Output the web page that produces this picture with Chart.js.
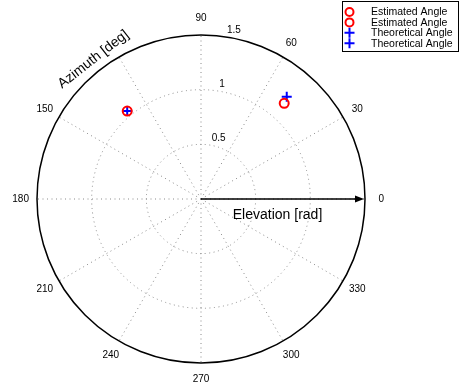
<!DOCTYPE html>
<html>
<head>
<meta charset="utf-8">
<script src="https://cdn.jsdelivr.net/npm/chart.js@4/dist/chart.umd.min.js"></script>
<style>
  html, body { margin: 0; padding: 0; background: #fff; }
  #wrap { width: 461px; height: 389px; }
</style>
</head>
<body>
<div id="wrap"><canvas id="polar" width="461" height="389"></canvas></div>
<script>
// Azimuth spokes (degrees) and their labels; the 120° slot carries the axis title instead
const azimuthTicks = [0, 30, 60, 90, 120, 150, 180, 210, 240, 270, 300, 330];
const azimuthTickLabels = ['0', '30', '60', '90', '', '150', '180', '210', '240', '270', '300', '330'];
// Elevation rings (radians) and their labels
const elevationTicks = [0.5, 1, 1.5];
const elevationTickLabels = ['0.5', '1', '1.5'];
const elevationMax = 1.5;

// Measured directions: azimuth in degrees, elevation in radians
const estimatedAzimuth = [130, 49];
const estimatedElevation = [1.05, 1.16];
// Reference directions
const theoreticalAzimuth = [130, 50];
const theoreticalElevation = [1.05, 1.22];

const azimuthTitle = 'Azimuth [deg]';
const elevationTitle = 'Elevation [rad]';
const FONT = '"Liberation Sans", Arial, Helvetica, sans-serif';

function toXY(azDeg, r) {
  const a = azDeg * Math.PI / 180;
  return { x: r * Math.cos(a), y: r * Math.sin(a) };
}

function pointDataset(label, az, el, style) {
  return Object.assign({
    label: label,
    data: [toXY(az, el)],
    showLine: false
  }, style);
}

const estStyle = { pointStyle: 'circle', pointRadius: 4.5, pointBorderWidth: 2,
  borderColor: '#ff0000', pointBorderColor: '#ff0000', backgroundColor: 'rgba(0,0,0,0)', pointBackgroundColor: 'rgba(0,0,0,0)' };
const theoStyle = { pointStyle: 'cross', pointRadius: 5, pointBorderWidth: 2,
  borderColor: '#0000ff', pointBorderColor: '#0000ff', backgroundColor: '#0000ff' };

const datasets = [
  pointDataset('Estimated Angle', estimatedAzimuth[0], estimatedElevation[0], estStyle),
  pointDataset('Estimated Angle', estimatedAzimuth[1], estimatedElevation[1], estStyle),
  pointDataset('Theoretical Angle', theoreticalAzimuth[0], theoreticalElevation[0], theoStyle),
  pointDataset('Theoretical Angle', theoreticalAzimuth[1], theoreticalElevation[1], theoStyle)
];

// Polar frame: dotted rings and spokes, solid rim, angle and ring labels, titles
const polarFrame = {
  id: 'polarFrame',
  beforeDatasetsDraw(chart) {
    const ctx = chart.ctx;
    const xs = chart.scales.x, ys = chart.scales.y;
    const px = v => xs.getPixelForValue(v);
    const py = v => ys.getPixelForValue(v);
    const cx = px(0), cy = py(0);
    const rpx = r => px(r) - px(0);

    ctx.save();
    // dotted spokes
    ctx.strokeStyle = '#8a8a8a';
    ctx.lineWidth = 1;
    ctx.setLineDash([1, 3.5]);
    azimuthTicks.forEach(a => {
      const p = toXY(a, elevationMax);
      ctx.beginPath();
      ctx.moveTo(cx, cy);
      ctx.lineTo(px(p.x), py(p.y));
      ctx.stroke();
    });
    // dotted inner rings
    elevationTicks.forEach(r => {
      if (r >= elevationMax) return;
      ctx.beginPath();
      ctx.arc(cx, cy, rpx(r), 0, Math.PI * 2);
      ctx.stroke();
    });
    ctx.setLineDash([]);
    // solid rim
    ctx.strokeStyle = '#000';
    ctx.lineWidth = 1.5;
    ctx.beginPath();
    ctx.arc(cx, cy, rpx(elevationMax), 0, Math.PI * 2);
    ctx.stroke();

    // angle labels
    ctx.fillStyle = '#000';
    ctx.font = '10px ' + FONT;
    ctx.textAlign = 'center';
    ctx.textBaseline = 'middle';
    azimuthTicks.forEach((a, i) => {
      const p = toXY(a, elevationMax * 1.1);
      ctx.fillText(azimuthTickLabels[i], px(p.x), py(p.y));
    });
    // ring labels along 82°
    ctx.textAlign = 'left';
    ctx.textBaseline = 'bottom';
    elevationTicks.forEach((r, i) => {
      const p = toXY(82, r + elevationMax / 3 / 20);
      ctx.fillText(' ' + elevationTickLabels[i], px(p.x), py(p.y) + 1);
    });

    // elevation arrow along 0°
    const x0 = cx, x1 = px(elevationMax) - 1;
    ctx.strokeStyle = '#000';
    ctx.fillStyle = '#000';
    ctx.lineWidth = 1.5;
    ctx.beginPath();
    ctx.moveTo(x0, cy);
    ctx.lineTo(x1 - 7, cy);
    ctx.stroke();
    ctx.beginPath();
    ctx.moveTo(x1, cy);
    ctx.lineTo(x1 - 9, cy - 3.5);
    ctx.lineTo(x1 - 9, cy + 3.5);
    ctx.closePath();
    ctx.fill();

    // titles
    ctx.font = '14px ' + FONT;
    ctx.textAlign = 'center';
    ctx.textBaseline = 'middle';
    ctx.fillText(elevationTitle, px(0.7), cy + 16);
    const t = toXY(127.6, elevationMax * 1.075);
    ctx.translate(px(t.x), py(t.y));
    ctx.rotate(-38 * Math.PI / 180);
    ctx.fillText(azimuthTitle, 0, 0);
    ctx.restore();
  },
  afterDraw(chart) {
    // boxed legend in the top-right corner
    const ctx = chart.ctx;
    const left = 342.5, top = 1.5, w = 116, h = 50;
    ctx.save();
    ctx.fillStyle = '#fff';
    ctx.fillRect(left, top, w, h);
    ctx.strokeStyle = '#000';
    ctx.lineWidth = 1;
    ctx.strokeRect(left, top, w, h);
    ctx.font = '10.5px ' + FONT;
    ctx.textAlign = 'left';
    ctx.textBaseline = 'middle';
    chart.data.datasets.forEach((ds, i) => {
      const y = 12 + i * 10.4;
      const mx = 349.5;
      ctx.strokeStyle = ds.pointBorderColor;
      ctx.lineWidth = 2;
      ctx.beginPath();
      if (ds.pointStyle === 'circle') {
        ctx.arc(mx, y, 4, 0, Math.PI * 2);
      } else {
        ctx.moveTo(mx - 5, y); ctx.lineTo(mx + 5, y);
        ctx.moveTo(mx, y - 5); ctx.lineTo(mx, y + 5);
      }
      ctx.stroke();
      ctx.fillStyle = '#000';
      ctx.fillText(ds.label, 371, y + 0.5);
    });
    ctx.restore();
  }
};

new Chart(document.getElementById('polar'), {
  type: 'scatter',
  data: { datasets: datasets },
  options: {
    responsive: false,
    animation: false,
    devicePixelRatio: 1,
    layout: { padding: { left: 37, right: 96, top: 35, bottom: 26 } },
    scales: {
      x: { type: 'linear', min: -elevationMax, max: elevationMax, display: false },
      y: { type: 'linear', min: -elevationMax, max: elevationMax, display: false }
    },
    plugins: { legend: { display: false }, tooltip: { enabled: false } },
    clip: false
  },
  plugins: [polarFrame]
});
</script>
</body>
</html>
